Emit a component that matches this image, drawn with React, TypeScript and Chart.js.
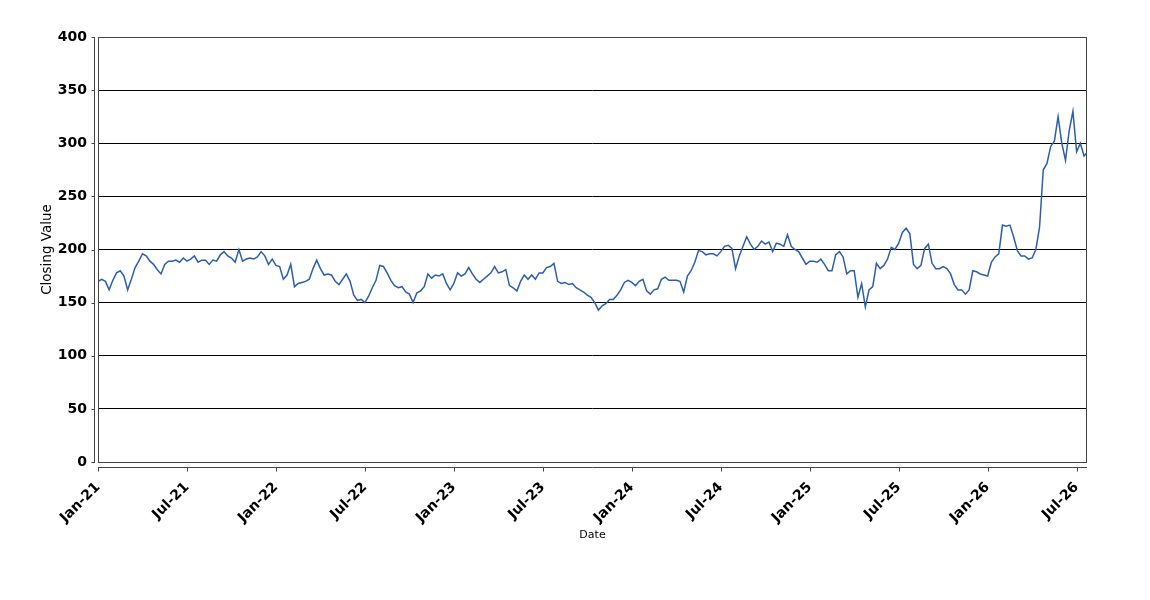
import React, { useEffect, useRef } from "react";
import { Chart, registerables, ChartConfiguration, Plugin } from "chart.js";

Chart.register(...registerables);

// one closing value every quarter month, starting Jan 2021
const monthStep = 0.25;
const closingValues = [
  170, 172, 170, 162, 171, 178, 180, 175, 162, 172, 183, 189,
  196, 194, 189, 186, 181, 177, 186, 189, 189, 190, 188, 192,
  189, 191, 194, 188, 190, 190, 186, 190, 189, 195, 198, 194,
  192, 188, 200, 189, 191, 192, 191, 193, 198, 194, 186, 191,
  185, 184, 172, 176, 186, 165, 168, 169, 170, 172, 182, 190,
  182, 176, 177, 176, 170, 167, 172, 177, 170, 157, 152, 153,
  150, 156, 164, 171, 185, 184, 178, 171, 166, 164, 165, 160,
  158, 150, 159, 161, 165, 177, 173, 176, 175, 177, 168, 162,
  168, 178, 175, 177, 183, 177, 172, 169, 172, 175, 178, 184,
  178, 179, 181, 166, 164, 161, 170, 176, 172, 176, 172, 178,
  178, 183, 184, 187, 170, 168, 169, 167, 168, 164, 162, 160,
  157, 155, 150, 143, 147, 149, 153, 153, 157, 162, 169, 171,
  169, 166, 170, 172, 161, 158, 162, 163, 172, 174, 171, 171,
  171, 170, 160, 175, 180, 188, 199, 198, 195, 196, 196, 194,
  198, 203, 204, 201, 182, 194, 203, 212, 205, 200, 203, 208,
  205, 207, 198, 206, 205, 203, 214, 203, 200, 198, 192, 186,
  189, 189, 188, 191, 186, 180, 180, 195, 198, 193, 177, 180,
  180, 155, 168, 146, 162, 165, 187, 182, 185, 191, 202, 200,
  206, 216, 220, 215, 186, 182, 185, 201, 205, 187, 182, 182,
  184, 182, 177, 167, 162, 162, 158, 162, 180, 179, 177, 176,
  175, 188, 193, 196, 223, 222, 223, 212, 199, 194, 194, 191,
  192, 200, 221, 275, 281, 297, 302, 325, 300, 284, 312, 330,
  292, 300, 288, 292,
];

const tickLabels = [
  "Jan-21", "Jul-21", "Jan-22", "Jul-22", "Jan-23", "Jul-23",
  "Jan-24", "Jul-24", "Jan-25", "Jul-25", "Jan-26", "Jul-26",
];
const tickMonths = [0, 6, 12, 18, 24, 30, 36, 42, 48, 54, 60, 66];
const lastMonth = 66.7;

const axisFrame: Plugin<"line"> = {
  id: "axisFrame",
  afterDraw(chart) {
    const { ctx, chartArea: a, scales } = chart;
    ctx.save();
    ctx.strokeStyle = "#444";
    ctx.lineWidth = 1;
    ctx.strokeRect(a.left + 0.5, a.top + 0.5, a.right - a.left - 1, a.bottom - a.top);

    ctx.beginPath();
    // y axis, pulled a little left of the plot
    const ax = a.left - 3.5;
    ctx.moveTo(ax, a.top);
    ctx.lineTo(ax, a.bottom + 1);
    scales.y.ticks.forEach((t) => {
      const py = Math.round(scales.y.getPixelForValue(t.value)) + 0.5;
      ctx.moveTo(ax - 3, py);
      ctx.lineTo(ax, py);
    });
    // x axis, below the plot
    const ay = a.bottom + 5.5;
    ctx.moveTo(a.left, ay);
    ctx.lineTo(a.right, ay);
    scales.x.ticks.forEach((t) => {
      const px = Math.round(scales.x.getPixelForValue(t.value)) + 0.5;
      ctx.moveTo(px, ay);
      ctx.lineTo(px, ay + 4);
    });
    ctx.stroke();
    ctx.restore();
  },
};

const App: React.FC = () => {
  const canvasRef = useRef<HTMLCanvasElement | null>(null);

  useEffect(() => {
    document.body.style.margin = "0";
    const canvas = canvasRef.current;
    if (!canvas) return;

    Chart.defaults.font.family = "'DejaVu Sans', sans-serif";

    const config: ChartConfiguration<"line"> = {
      type: "line",
      data: {
        datasets: [
          {
            label: "Closing Value",
            data: closingValues.map((v, i) => ({ x: i * monthStep, y: v })),
            borderColor: "#2a5fb0",
            borderWidth: 1.5,
            pointRadius: 0,
            tension: 0,
          },
        ],
      },
      options: {
        animation: false,
        responsive: true,
        maintainAspectRatio: false,
        layout: { padding: { top: 37, right: 63, left: 0, bottom: 0 } },
        plugins: {
          legend: { display: false },
          tooltip: { enabled: false },
        },
        scales: {
          x: {
            type: "linear",
            min: 0,
            max: lastMonth,
            afterBuildTicks: (scale) => {
              scale.ticks = tickMonths.map((m) => ({ value: m }));
            },
            afterFit: (scale) => {
              scale.height = 138;
            },
            grid: { display: false },
            border: { display: false },
            ticks: {
              autoSkip: false,
              minRotation: 45,
              maxRotation: 45,
              padding: 9,
              color: "#000",
              font: { size: 14, weight: "bold" },
              callback: (value) => tickLabels[tickMonths.indexOf(Number(value))] ?? "",
            },
            title: {
              display: true,
              text: "Date",
              color: "#000",
              font: { size: 11 },
              padding: { bottom: 58 },
            },
          },
          y: {
            min: 0,
            max: 400,
            afterFit: (scale) => {
              scale.width = 98;
            },
            grid: { color: "#000", lineWidth: 1, drawTicks: false },
            border: { display: false },
            ticks: {
              stepSize: 50,
              padding: 11,
              color: "#000",
              font: { size: 14, weight: "bold" },
            },
            title: {
              display: true,
              text: "Closing Value",
              color: "#000",
              font: { size: 13.5 },
              padding: { top: 39 },
            },
          },
        },
      },
      plugins: [axisFrame],
    };

    const chart = new Chart(canvas, config);
    return () => {
      chart.destroy();
    };
  }, []);

  return (
    <div style={{ position: "relative", width: 1150, height: 600 }}>
      <canvas ref={canvasRef} />
    </div>
  );
};

export default App;
